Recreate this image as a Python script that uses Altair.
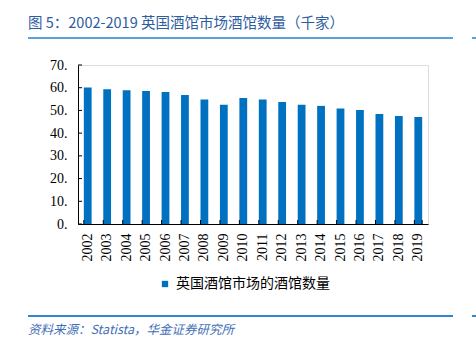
import altair as alt
import pandas as pd

years = [str(y) for y in range(2002, 2020)]
values = [60.1, 59.3, 58.9, 58.6, 58.1, 56.8, 54.8, 52.5, 55.5, 54.8, 53.7, 52.5, 52.0, 50.8, 50.2, 48.4, 47.6, 47.1]
series_name = "英国酒馆市场的酒馆数量"
y_ticks = [0, 10, 20, 30, 40, 50, 60, 70]
title_text = "图 5：2002-2019 英国酒馆市场酒馆数量（千家）"
source_text = "资料来源：Statista，华金证券研究所"

df = pd.DataFrame({"year": years, "value": values, "series": [series_name] * len(years)})
tick_df = pd.DataFrame({"v": y_ticks})
last_df = pd.DataFrame({"year": [years[-1]]})
one = pd.DataFrame({"t": [""]})

W, H = 350, 159

xscale = alt.Scale(domain=years, paddingInner=0.6, paddingOuter=0.3)
yscale = alt.Scale(domain=[0, 70])

xaxis = alt.Axis(title=None, labelAngle=-90, tickSize=0, labelPadding=9,
                 labelFont="Liberation Serif", labelFontSize=14, labelColor="#000",
                 domainColor="#000", domainWidth=1, labelOverlap=False)
yaxis = alt.Axis(title=None, values=y_ticks, labelExpr="datum.value + '.'", grid=False,
                 tickSize=0, labelPadding=11, labelFont="Liberation Serif",
                 labelFontSize=14, labelColor="#000", domainColor="#000", domainWidth=1,
                 labelOverlap=False)

bars = alt.Chart(df).mark_bar(color="#0070C0").encode(
    x=alt.X("year:N", scale=xscale, sort=years, axis=xaxis),
    y=alt.Y("value:Q", scale=yscale, axis=yaxis),
    color=alt.Color("series:N", scale=alt.Scale(domain=[series_name], range=["#0070C0"]),
                    legend=alt.Legend(title=None, orient="none", legendX=80, legendY=212,
                                      symbolType="square", symbolSize=40,
                                      labelFont="Noto Sans CJK SC", labelFontSize=14,
                                      labelColor="#000", symbolStrokeWidth=0)),
)

ytick_rules = alt.Chart(tick_df).mark_rule(color="#000", strokeWidth=1).encode(
    y=alt.Y("v:Q", scale=yscale, axis=yaxis), x=alt.value(0), x2=alt.value(4)
)

xtick_rules = alt.Chart(df).mark_rule(color="#000", strokeWidth=1).encode(
    x=alt.X("year:N", scale=xscale, sort=years, bandPosition=0, axis=xaxis),
    y=alt.value(H), y2=alt.value(H - 4)
)
xtick_last = alt.Chart(last_df).mark_rule(color="#000", strokeWidth=1).encode(
    x=alt.X("year:N", scale=xscale, sort=years, bandPosition=1, axis=xaxis),
    y=alt.value(H), y2=alt.value(H - 4)
)

title = alt.Chart(one).mark_text(
    text=title_text, align="left", baseline="middle", font="Noto Sans CJK SC",
    fontSize=14.5, color="#2E5D9F"
).encode(x=alt.value(-50), y=alt.value(-41))

top_rule = alt.Chart(one).mark_rule(color="#5AA0DA", strokeWidth=2).encode(
    x=alt.value(-50), x2=alt.value(375), y=alt.value(-27))
top_rule2 = alt.Chart(one).mark_rule(color="#5AA0DA", strokeWidth=2).encode(
    x=alt.value(394), x2=alt.value(400), y=alt.value(-27))
bot_rule = alt.Chart(one).mark_rule(color="#2F87CC", strokeWidth=2).encode(
    x=alt.value(-50), x2=alt.value(375), y=alt.value(251))
bot_rule2 = alt.Chart(one).mark_rule(color="#2F87CC", strokeWidth=2).encode(
    x=alt.value(394), x2=alt.value(400), y=alt.value(251))

source = alt.Chart(one).mark_text(
    text=source_text, align="left", baseline="middle", font="Noto Sans CJK SC",
    fontSize=12.5, fontStyle="italic", color="#3F6FB5"
).encode(x=alt.value(-50), y=alt.value(265))

chart = alt.layer(
    bars, ytick_rules, xtick_rules, xtick_last, title, top_rule, top_rule2,
    bot_rule, bot_rule2, source
).properties(
    width=W, height=H,
    autosize=alt.AutoSizeParams(type="none"),
    padding={"left": 78, "top": 65, "right": 48, "bottom": 122},
).configure_view(stroke=None).configure(background="white")

chart.save("out.html", embed_options={"renderer": "svg", "actions": False})
